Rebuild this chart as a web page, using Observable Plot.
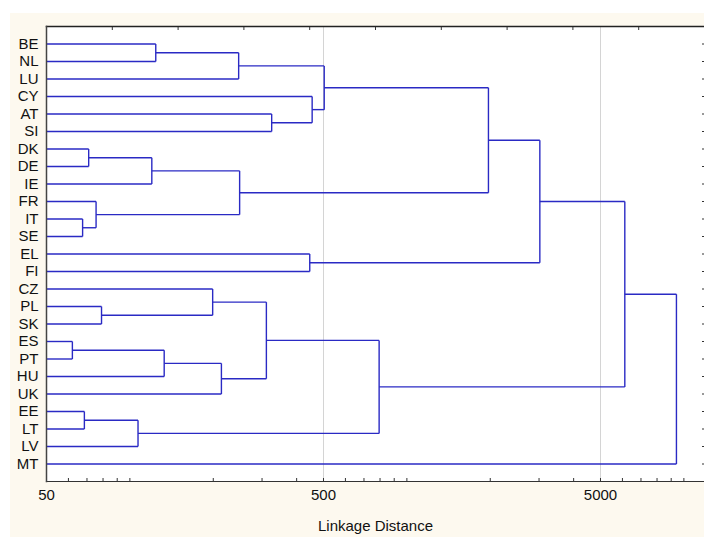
<!DOCTYPE html>
<html>
<head>
<meta charset="utf-8">
<script src="https://cdn.jsdelivr.net/npm/d3@7"></script>
<script src="https://cdn.jsdelivr.net/npm/@observablehq/plot@0.6"></script>
<style>
  html, body { margin: 0; padding: 0; background: #ffffff; }
  #wrap { position: relative; width: 704px; height: 537px; background: #ffffff; overflow: hidden; }
  #panel { position: absolute; left: 10px; top: 13px; right: 0; bottom: 0; background: #fdf9ef; }
  #chart { position: absolute; left: 0; top: 0; }
</style>
</head>
<body>
<div id="wrap"><div id="panel"></div><div id="chart"></div></div>
<script>
// Leaves (top to bottom)
const leaves = ["BE","NL","LU","CY","AT","SI","DK","DE","IE","FR","IT","SE","EL","FI","CZ","PL","SK","ES","PT","HU","UK","EE","LT","LV","MT"];

// Linkage: cluster ids 0..24 are leaves, each merge creates id 25, 26, ...
const linkA    = [17, 10, 21,  6,  9, 15,  27,  28,   0,  25,  14,  34,  33,  32,  35,   4,  12,   3,  37,  39,   43,   45,   46,   47];
const linkB    = [18, 11, 22,  7, 26, 16,  23,   8,   1,  19,  30,  20,   2,  29,  36,   5,  13,  40,  42,  31,   38,   41,   44,   24];
const linkDist = [62, 67.5, 68.5, 71, 75.5, 79, 107, 120, 124, 133, 199, 214, 247, 249, 311, 325, 446, 455, 503, 794, 1970, 3020, 6120, 9400];

// Axis values
const xLabelTicks = [50, 500, 5000];
const xMinorTicks = [60,70,80,90,100,200,300,400,500,600,700,800,900,1000,2000,3000,4000,5000,6000,7000,8000,9000,10000];
const gridValues = [500, 5000];
const xMin = 50, xMax = 11870;
const axisTitle = "Linkage Distance";

// Build dendrogram segments
const pos = leaves.map((_, i) => i);
const hgt = leaves.map(() => xMin);
const segs = [];
for (let k = 0; k < linkDist.length; k++) {
  const a = linkA[k], b = linkB[k], d = linkDist[k];
  const ya = pos[a], yb = pos[b];
  segs.push({x1: hgt[a], x2: d, y1: ya, y2: ya});
  segs.push({x1: hgt[b], x2: d, y1: yb, y2: yb});
  segs.push({x1: d, x2: d, y1: ya, y2: yb});
  pos.push((ya + yb) / 2);
  hgt.push(d);
}

// top decorative ticks: ten equal divisions of the log range
const lmin = Math.log10(xMin), lmax = Math.log10(xMax);
const topTicks = d3.range(1, 10).map(i => Math.pow(10, lmin + i / 10 * (lmax - lmin)));

const lineColor = "#2a2ac4";
const idx = d3.range(leaves.length);

const chart = Plot.plot({
  width: 704,
  height: 537,
  marginLeft: 46,
  marginRight: 0,
  marginTop: 26,
  marginBottom: 56,
  style: {background: "transparent", fontFamily: "'Liberation Sans', Arial, sans-serif", fontSize: "15px", color: "#111"},
  x: {type: "log", domain: [xMin, xMax]},
  y: {domain: [-1, leaves.length], reverse: true},
  marks: [
    Plot.frame({fill: "white", stroke: null}),
    Plot.gridX(gridValues, {stroke: "#d4d4d4", strokeOpacity: 1, strokeWidth: 1}),
    Plot.link(segs, {x1: "x1", y1: "y1", x2: "x2", y2: "y2", stroke: lineColor, strokeWidth: 1.4}),
    Plot.frame({anchor: "top", stroke: "#222", strokeWidth: 1.5}),
    Plot.frame({anchor: "bottom", stroke: "#333", strokeWidth: 1.2}),
    Plot.frame({anchor: "left", stroke: "#444", strokeWidth: 1.5}),
    Plot.axisY({ticks: idx, tickFormat: i => leaves[i], tickSize: 0, tickPadding: 8, fontSize: 15}),
    Plot.axisY({anchor: "right", ticks: idx, tickFormat: () => "", tickSize: 3, dx: -3, stroke: "#333"}),
    Plot.axisX({ticks: xMinorTicks, tickFormat: () => "", tickSize: 3, dy: -3, stroke: "#333", label: null}),
    Plot.axisX({anchor: "top", ticks: topTicks, tickFormat: () => "", tickSize: 3, dy: 3, stroke: "#333", label: null}),
    Plot.text(xLabelTicks, {x: d => d, text: d => String(d), frameAnchor: "bottom", dy: 18, fontSize: 15, fill: "#111"}),
    Plot.text([axisTitle], {text: d => d, frameAnchor: "bottom", dy: 49, fontSize: 15, fill: "#111"})
  ]
});
document.getElementById("chart").appendChild(chart);
</script>
</body>
</html>
